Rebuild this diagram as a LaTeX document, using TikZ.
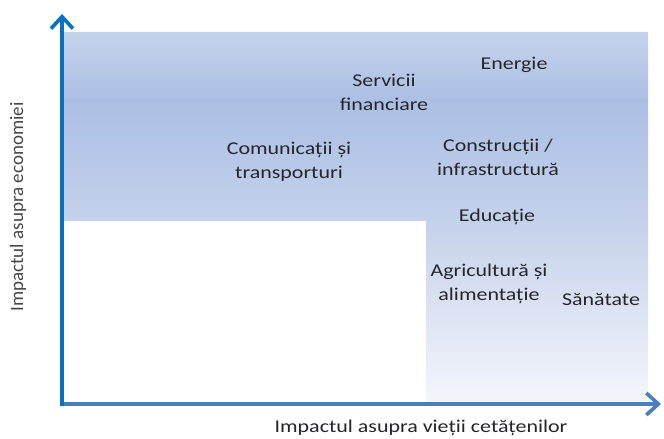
\documentclass[tikz,border=0pt]{standalone}
\usepackage{fontspec}
\setmainfont{Carlito}[FakeStretch=1.22]
\newfontfamily\axisfont{Carlito}
\usetikzlibrary{arrows.meta}
\definecolor{axisblue}{HTML}{0A70C2}
\definecolor{axissteel}{HTML}{4A7EBE}
\definecolor{bandtop}{HTML}{C5D3EC}
\definecolor{banddark}{HTML}{ABBFE4}
\definecolor{bandmid}{HTML}{C4D1EB}
\definecolor{bandlow}{HTML}{F4F6FB}
\definecolor{txt}{HTML}{262629}
\pgfdeclareverticalshading{sectorfill}{100bp}{color(0bp)=(bandlow); color(25bp)=(bandlow);
  color(49.7bp)=(bandmid); color(65.8bp)=(banddark); color(75bp)=(bandtop); color(100bp)=(bandtop)}

\begin{document}
\begin{tikzpicture}[
  x=1bp, y=1bp,
  >={Straight Barb[length=12bp, width=22bp]},
  axisline/.style={line width=3.6bp, line cap=rect, ->},
  sector/.style={font=\fontsize{18bp}{24bp}\selectfont, text=txt, align=center, inner sep=0pt},
  lbl/.style={sector, font=\axisfont\fontsize{19bp}{24bp}\selectfont, text=txt!85}
]
\useasboundingbox (0,0) rectangle (664,439);

\shade[shading=sectorfill] (64,407) -- (648,407) -- (648,36) -- (426,36) -- (426,218) -- (64,218) -- cycle;

\coordinate (origin) at (62,35);
\coordinate (ytip) at (62,425);
\coordinate (xtip) at (661,35);
\draw[axisline, axissteel] (origin) -- (xtip);
\draw[axisline, axisblue] (origin) -- (ytip);

\node[lbl, rotate=90] (yname) at (18,232) {Impactul asupra economiei};
\node[sector] (xname) at (421,11) {Impactul asupra vieții cetățenilor};

\node[sector] (energie) at (514,374) {Energie};
\node[sector] (servicii) at (384,347) {Servicii\\financiare};
\node[sector] (comunic) at (289,277) {Comunicații și\\transporturi};
\node[sector] (constr) at (498,282) {Construcții /\\infrastructură};
\node[sector] (educ) at (497,222) {Educație};
\node[sector] (agric) at (489,155) {Agricultură și\\alimentație};
\node[sector] (sanat) at (601,140) {Sănătate};
\end{tikzpicture}
\end{document}
